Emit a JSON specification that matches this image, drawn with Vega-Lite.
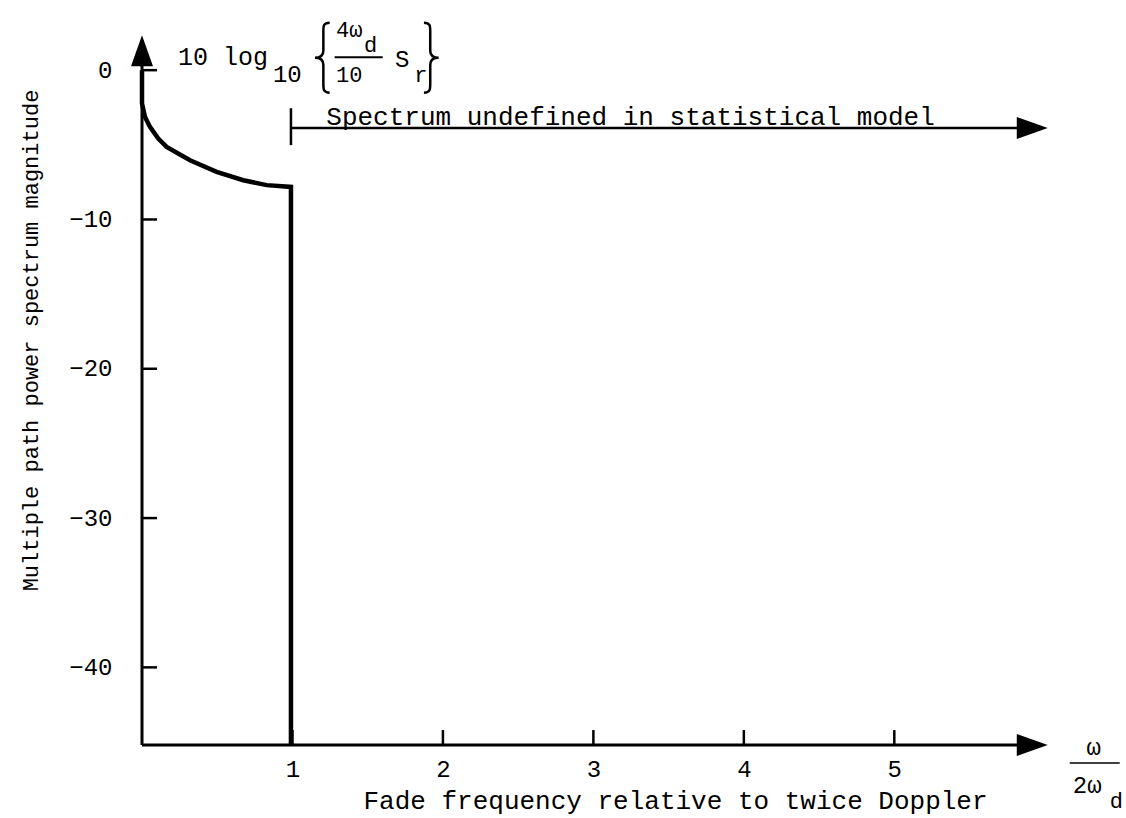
{
  "$schema": "https://vega.github.io/schema/vega-lite/v6.json",
  "autosize": "none",
  "width": 978,
  "height": 745,
  "padding": {"left": 142, "top": 0, "right": 6, "bottom": 73},
  "background": "white",
  "config": {
    "view": {"stroke": null},
    "text": {"font": "Liberation Mono", "color": "black"}
  },
  "data": {"values": [{}]},
  "datasets": {
    "spectrum": [
      {"f": 0.0, "db": 0.0},
      {"f": 0.0, "db": -2.23},
      {"f": 0.02, "db": -3.13},
      {"f": 0.053, "db": -3.8},
      {"f": 0.108, "db": -4.58},
      {"f": 0.164, "db": -5.14},
      {"f": 0.319, "db": -6.03},
      {"f": 0.496, "db": -6.81},
      {"f": 0.673, "db": -7.37},
      {"f": 0.829, "db": -7.7},
      {"f": 0.99, "db": -7.82},
      {"f": 0.99, "db": -45.2}
    ],
    "xticks": [{"v": 1}, {"v": 2}, {"v": 3}, {"v": 4}, {"v": 5}],
    "yticks": [{"v": 0}, {"v": -10}, {"v": -20}, {"v": -30}, {"v": -40}]
  },
  "layer": [
    {
      "data": {"name": "spectrum"},
      "mark": {"type": "line", "color": "black", "strokeWidth": 4.5, "strokeJoin": "miter"},
      "encoding": {
        "x": {
          "field": "f", "type": "quantitative",
          "scale": {"domain": [0, 6.5], "nice": false, "zero": false},
          "axis": {
            "values": [1, 2, 3, 4, 5], "format": "d", "domain": false, "ticks": false, "grid": false,
            "labelFont": "Liberation Mono", "labelFontSize": 24, "labelColor": "black", "labelPadding": 12,
            "title": "Fade frequency relative to twice Doppler",
            "titleFont": "Liberation Mono", "titleFontSize": 26, "titleFontWeight": "normal", "titleColor": "black",
            "titleX": 533, "titleY": 63, "titleBaseline": "alphabetic", "titleAlign": "center"
          }
        },
        "y": {
          "field": "db", "type": "quantitative",
          "scale": {"domain": [-45.2, 4.7], "nice": false, "zero": false},
          "axis": {
            "values": [0, -10, -20, -30, -40], "format": "d", "domain": false, "ticks": false, "grid": false,
            "labelFont": "Liberation Mono", "labelFontSize": 24, "labelColor": "black", "labelPadding": 30,
            "title": "Multiple path power spectrum magnitude",
            "titleFont": "Liberation Mono", "titleFontSize": 22, "titleFontWeight": "normal", "titleColor": "black",
            "titleX": -105, "titleY": 340, "titleBaseline": "alphabetic", "titleAlign": "center", "titleAngle": 270
          }
        },
        "order": {"value": null}
      }
    },
    {
      "mark": {"type": "rule", "color": "black", "strokeWidth": 3},
      "encoding": {"x": {"datum": 0}, "y": {"datum": -45.2}, "y2": {"datum": 2.0}}
    },
    {
      "mark": {"type": "rule", "color": "black", "strokeWidth": 3},
      "encoding": {"y": {"datum": -45.2}, "x": {"datum": 0}, "x2": {"datum": 5.9}}
    },
    {
      "data": {"name": "xticks"},
      "mark": {"type": "rule", "color": "black", "strokeWidth": 2.5},
      "encoding": {"x": {"field": "v", "type": "quantitative"}, "y": {"datum": -45.2}, "y2": {"datum": -44.2}}
    },
    {
      "data": {"name": "yticks"},
      "mark": {"type": "rule", "color": "black", "strokeWidth": 2.5},
      "encoding": {"y": {"field": "v", "type": "quantitative"}, "x": {"datum": 0}, "x2": {"datum": 0.1}}
    },
    {
      "mark": {"type": "point", "shape": "M-0.71,2L0,0L0.71,2Z", "size": 961, "filled": true, "color": "black", "opacity": 1},
      "encoding": {"x": {"datum": 0}, "y": {"datum": 2.34}}
    },
    {
      "mark": {"type": "point", "shape": "M-2,-0.71L0,0L-2,0.71Z", "size": 961, "filled": true, "color": "black", "opacity": 1},
      "encoding": {"x": {"datum": 6.02}, "y": {"datum": -45.2}}
    },
    {
      "mark": {"type": "rule", "color": "black", "strokeWidth": 2.5},
      "encoding": {"y": {"datum": -3.88}, "x": {"datum": 0.99}, "x2": {"datum": 5.9}}
    },
    {
      "mark": {"type": "rule", "color": "black", "strokeWidth": 2.5},
      "encoding": {"x": {"datum": 0.99}, "y": {"datum": -2.55}, "y2": {"datum": -5.02}}
    },
    {
      "mark": {"type": "point", "shape": "M-2,-0.71L0,0L-2,0.71Z", "size": 961, "filled": true, "color": "black", "opacity": 1},
      "encoding": {"x": {"datum": 6.02}, "y": {"datum": -3.88}}
    },
    {
      "mark": {"type": "text", "fontSize": 26, "align": "left", "baseline": "alphabetic"},
      "encoding": {"x": {"datum": 1.225}, "y": {"datum": -3.68}, "text": {"value": "Spectrum undefined in statistical model"}}
    },
    {
      "mark": {"type": "text", "fontSize": 25, "align": "left", "baseline": "alphabetic"},
      "encoding": {"x": {"datum": 0.239}, "y": {"datum": 0.33}, "text": {"value": "10 log"}}
    },
    {
      "mark": {"type": "text", "fontSize": 24, "align": "left", "baseline": "alphabetic"},
      "encoding": {"x": {"datum": 0.87}, "y": {"datum": -0.8}, "text": {"value": "10"}}
    },
    {
      "mark": {"type": "point", "shape": "M0.22,-1C0.04,-1 0.04,-0.9 0.04,-0.75L0.04,-0.2C0.04,-0.06 -0.04,0 -0.2,0C-0.04,0 0.04,0.06 0.04,0.2L0.04,0.75C0.04,0.9 0.04,1 0.22,1", "size": 4900, "filled": false, "color": "black", "strokeWidth": 2.5, "opacity": 1},
      "encoding": {"x": {"datum": 1.196}, "y": {"datum": 0.84}}
    },
    {
      "mark": {"type": "point", "shape": "M-0.22,-1C-0.04,-1 -0.04,-0.9 -0.04,-0.75L-0.04,-0.2C-0.04,-0.06 0.04,0 0.2,0C0.04,0 -0.04,0.06 -0.04,0.2L-0.04,0.75C-0.04,0.9 -0.04,1 -0.22,1", "size": 4900, "filled": false, "color": "black", "strokeWidth": 2.5, "opacity": 1},
      "encoding": {"x": {"datum": 1.925}, "y": {"datum": 0.84}}
    },
    {
      "mark": {"type": "text", "fontSize": 22, "align": "left", "baseline": "alphabetic"},
      "encoding": {"x": {"datum": 1.29}, "y": {"datum": 2.21}, "text": {"value": "4ω"}}
    },
    {
      "mark": {"type": "text", "fontSize": 22, "align": "left", "baseline": "alphabetic"},
      "encoding": {"x": {"datum": 1.476}, "y": {"datum": 1.21}, "text": {"value": "d"}}
    },
    {
      "mark": {"type": "rule", "color": "black", "strokeWidth": 2},
      "encoding": {"y": {"datum": 0.87}, "x": {"datum": 1.28}, "x2": {"datum": 1.6}}
    },
    {
      "mark": {"type": "text", "fontSize": 22, "align": "left", "baseline": "alphabetic"},
      "encoding": {"x": {"datum": 1.29}, "y": {"datum": -0.8}, "text": {"value": "10"}}
    },
    {
      "mark": {"type": "text", "fontSize": 24, "align": "left", "baseline": "alphabetic"},
      "encoding": {"x": {"datum": 1.681}, "y": {"datum": 0.2}, "text": {"value": "S"}}
    },
    {
      "mark": {"type": "text", "fontSize": 22, "align": "left", "baseline": "alphabetic"},
      "encoding": {"x": {"datum": 1.81}, "y": {"datum": -0.8}, "text": {"value": "r"}}
    },
    {
      "mark": {"type": "text", "fontSize": 24, "align": "center", "baseline": "alphabetic"},
      "encoding": {"x": {"datum": 6.326}, "y": {"datum": -45.9}, "text": {"value": "ω"}}
    },
    {
      "mark": {"type": "rule", "color": "black", "strokeWidth": 1.5},
      "encoding": {"y": {"datum": -46.4}, "x": {"datum": 6.166}, "x2": {"datum": 6.498}}
    },
    {
      "mark": {"type": "text", "fontSize": 24, "align": "left", "baseline": "alphabetic"},
      "encoding": {"x": {"datum": 6.186}, "y": {"datum": -48.4}, "text": {"value": "2ω"}}
    },
    {
      "mark": {"type": "text", "fontSize": 22, "align": "left", "baseline": "alphabetic"},
      "encoding": {"x": {"datum": 6.432}, "y": {"datum": -49.4}, "text": {"value": "d"}}
    }
  ]
}
